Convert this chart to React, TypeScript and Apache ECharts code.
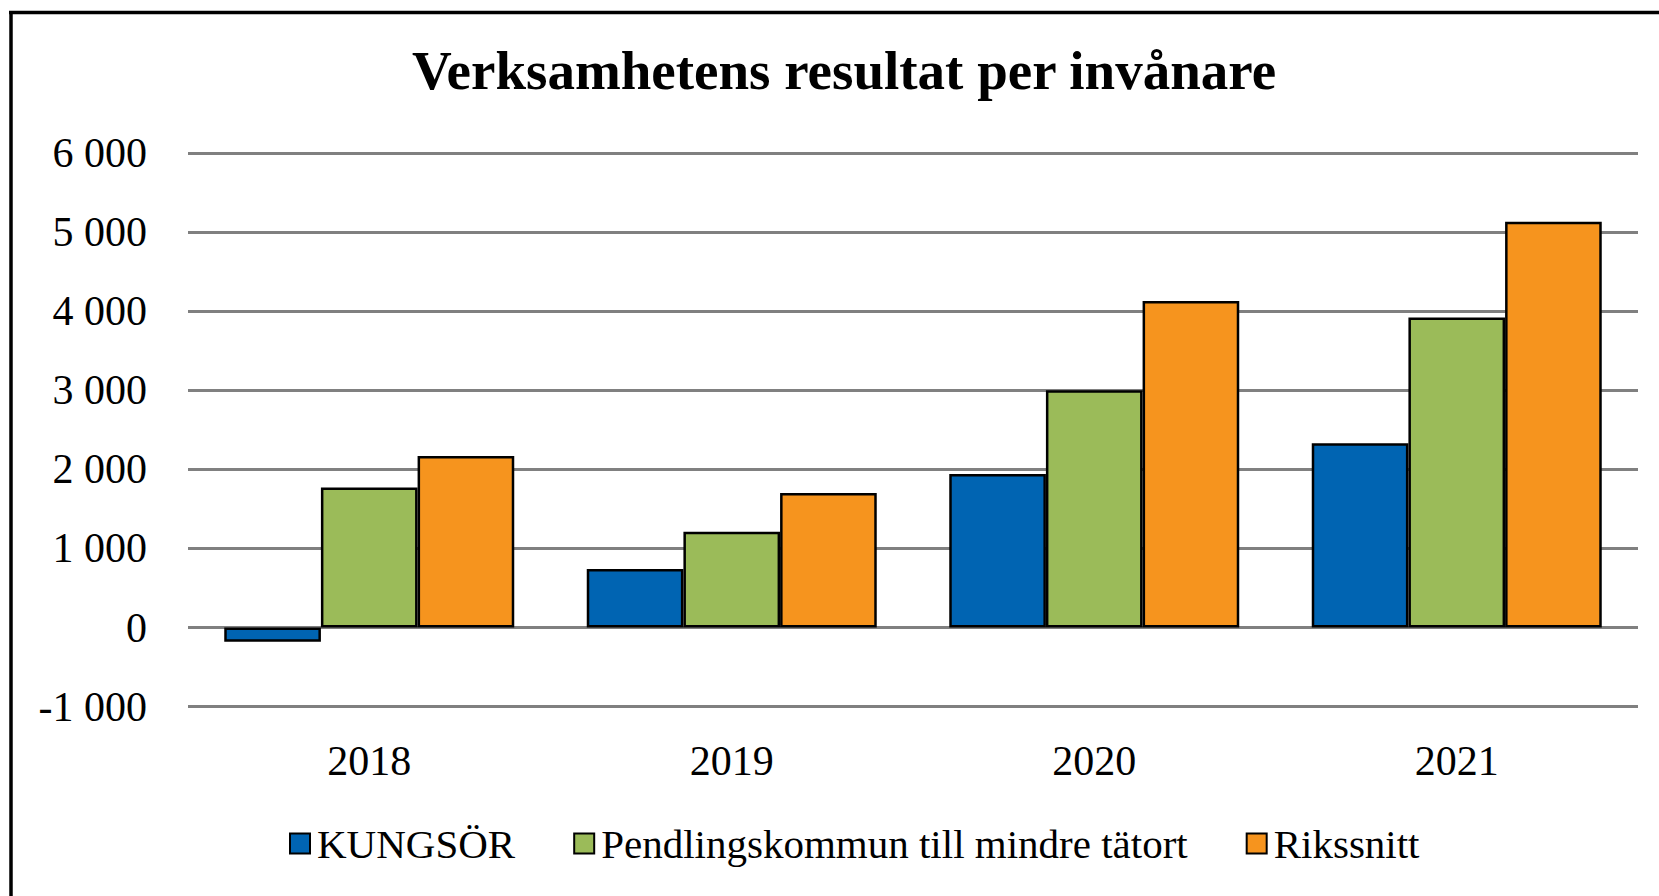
import React, { useEffect, useRef } from "react";
import * as echarts from "echarts";

const years = ["2018", "2019", "2020", "2021"];
const kungsor = [-180, 740, 1940, 2330];
const pendling = [1770, 1210, 3000, 3920];
const riksSnitt = [2170, 1700, 4130, 5130];
const seriesNames = ["KUNGSÖR", "Pendlingskommun till mindre tätort", "Rikssnitt"];
const colors = ["#0064B2", "#9BBB59", "#F6941E"];

const FONT = "'Liberation Serif', 'Times New Roman', serif";

export default function App() {
  const ref = useRef<HTMLDivElement>(null);
  useEffect(() => {
    document.body.style.margin = "0";
    const chart = echarts.init(ref.current!, null, { renderer: "svg" });
    const data = [kungsor, pendling, riksSnitt];
    chart.setOption({
      animation: false,
      backgroundColor: "#ffffff",
      title: {
        text: "Verksamhetens resultat per invånare",
        left: 839,
        top: 38,
        textAlign: "center",
        textStyle: { fontFamily: FONT, fontWeight: "bold", fontSize: 55, color: "#000" },
      },
      graphic: [
        { type: "line", shape: { x1: 9, y1: 12.5, x2: 1659, y2: 12.5 }, style: { stroke: "#000", lineWidth: 3.5 } },
        { type: "line", shape: { x1: 11, y1: 11, x2: 11, y2: 896 }, style: { stroke: "#000", lineWidth: 3.5 } },
      ],
      legend: {
        left: 284,
        top: 818,
        itemWidth: 20,
        itemHeight: 20,
        itemGap: 58,
        icon: "rect",
        itemStyle: { borderColor: "#000", borderWidth: 2 },
        textStyle: { fontFamily: FONT, fontSize: 41, color: "#000", padding: [0, 0, 0, 2] },
        data: seriesNames,
      },
      grid: { left: 188, right: 21, top: 153, bottom: 189.4 },
      xAxis: {
        type: "category",
        data: years,
        axisLine: { show: false, onZero: false },
        axisTick: { show: false },
        axisLabel: { fontFamily: FONT, fontSize: 42, color: "#000", margin: 33 },
      },
      yAxis: {
        type: "value",
        min: -1000,
        max: 6000,
        interval: 1000,
        axisLine: { show: false },
        axisTick: { show: false },
        splitLine: { lineStyle: { color: "#808080", width: 3 } },
        axisLabel: {
          fontFamily: FONT,
          fontSize: 42,
          color: "#000",
          margin: 41,
          formatter: (v: number) => {
            const s = Math.abs(v).toString();
            const f = s.replace(/\B(?=(\d{3})+(?!\d))/g, " ");
            return (v < 0 ? "-" : "") + f;
          },
        },
      },
      series: seriesNames.map((name, i) => ({
        name,
        type: "bar",
        data: data[i],
        barGap: "0%",
        barCategoryGap: "20%",
        itemStyle: { color: colors[i], borderColor: "#000", borderWidth: 2.5 },
      })),
    });
    return () => chart.dispose();
  }, []);
  return <div ref={ref} style={{ width: 1659, height: 896 }} />;
}
